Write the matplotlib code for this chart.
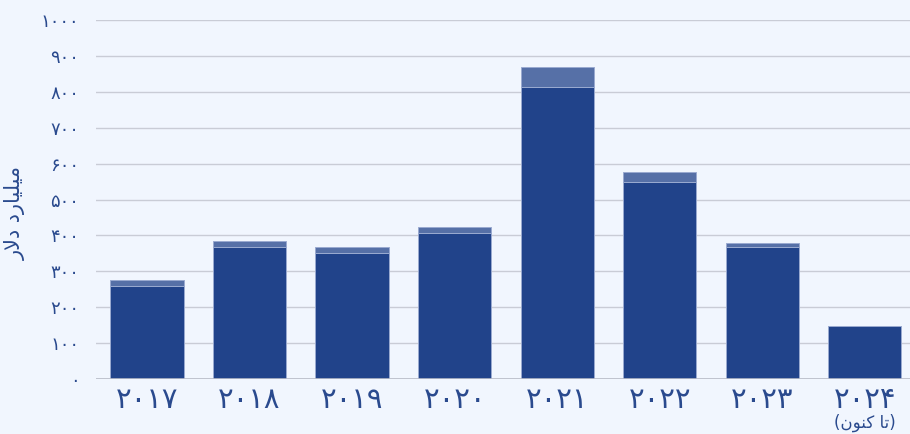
import matplotlib.pyplot as plt
import numpy as np

plt.rcParams['font.family'] = ['DejaVu Sans']

# سال‌ها و مقادیر (میلیارد دلار)
years = ['۲۰۱۷', '۲۰۱۸', '۲۰۱۹', '۲۰۲۰', '۲۰۲۱', '۲۰۲۲', '۲۰۲۳', '۲۰۲۴']
base_vals = [259, 367, 350, 408, 814, 548, 368, 147]
extra_vals = [17, 18, 19, 16, 55, 28, 10, 0]
yticks = [0, 100, 200, 300, 400, 500, 600, 700, 800, 900, 1000]
ytick_labels = ['۰', '۱۰۰', '۲۰۰', '۳۰۰', '۴۰۰', '۵۰۰', '۶۰۰', '۷۰۰', '۸۰۰', '۹۰۰', '۱۰۰۰']

# متن فارسی با حروف شکل‌یافته (matplotlib شکل‌دهی عربی ندارد)
ylabel_txt = '\uFEAD\uFEFB\uFEA9 \uFEA9\uFEAD\uFE8E\uFEF4\uFEE0\uFEF4\uFEE3'   # میلیارد دلار
sofar_txt = '(\uFEE5\uFEEE\uFEE8\uFB90 \uFE8E\uFE97)'                          # (تا کنون)

bg = '#f1f6fe'
dark = '#21438a'
light = '#5670a7'
txt = '#2a4a8e'

fig = plt.figure(figsize=(9.1, 4.34), dpi=100, facecolor=bg)
ax = fig.add_axes([96 / 910, 1 - 379 / 434, 1 - 96 / 910, (379 - 20) / 434])
ax.set_facecolor(bg)

x = np.arange(len(years))
w = 0.714
ax.bar(x, base_vals, width=w, color=dark, edgecolor='#9aaad0', linewidth=0.7, zorder=3)
ax.bar(x, extra_vals, width=w, bottom=base_vals, color=light, edgecolor='#9aaad0',
       linewidth=0.7, zorder=3)

ax.set_ylim(0, 1000)
ax.set_xlim(-0.497, 7.44)
ax.set_yticks(yticks)
ax.set_yticklabels(ytick_labels)
ax.set_xticks(x)
ax.set_xticklabels(years)
ax.grid(axis='y', color='#c9ccd6', linewidth=1.0, zorder=0)
ax.tick_params(axis='y', length=0, pad=12, labelsize=13, labelcolor=txt)
ax.tick_params(axis='x', length=0, pad=5, labelsize=21, labelcolor=txt)
for s in ax.spines.values():
    s.set_visible(False)
ax.axhline(0, color='#b8bcc8', linewidth=1.2, zorder=4)

ax.text(7, -0.123, sofar_txt, transform=ax.get_xaxis_transform(), ha='center',
        va='center', fontsize=12, color=txt)
fig.text(15 / 910, 1 - 213 / 434, ylabel_txt, rotation=90, ha='center', va='center',
         fontsize=15, color=txt)

fig.savefig('out.png', dpi=100, facecolor=bg)
